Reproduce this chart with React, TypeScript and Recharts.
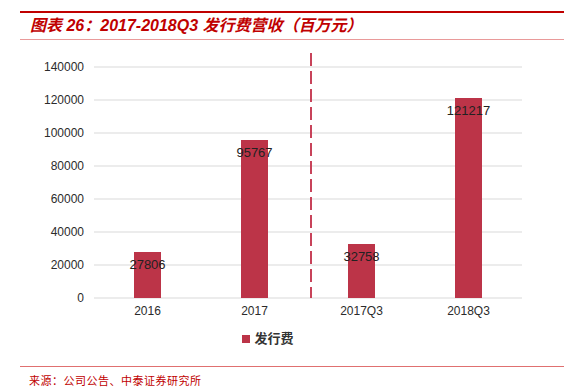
import React from 'react';
import {
  BarChart, Bar, XAxis, YAxis, CartesianGrid, Legend, LabelList, usePlotArea,
} from 'recharts';

const categories = ['2016', '2017', '2017Q3', '2018Q3'];
const issueFees = [27806, 95767, 32758, 121217];
const yTicks = [0, 20000, 40000, 60000, 80000, 100000, 120000, 140000];

const rows = categories.map((name, i) => ({ name, fee: issueFees[i] }));

const RED = '#bc3448';
const LATIN = '"Liberation Sans", Arial, "Noto Sans CJK SC", sans-serif';

// dashed split between annual and Q3 figures
function PeriodDivider() {
  const plot = usePlotArea();
  if (!plot) return null;
  const x = plot.x + plot.width / 2 + 3;
  return (
    <line
      x1={x} x2={x} y1={plot.y - 14} y2={plot.y + plot.height}
      stroke="#c8435a" strokeWidth={2} strokeDasharray="13 5"
    />
  );
}

export default function App() {
  return (
    <div style={{ position: 'absolute', left: 0, top: 0, width: 564, height: 390, background: '#fff', overflow: 'hidden' }}>
      <div style={{ position: 'absolute', left: 20, right: 0, top: 11, height: 2, background: '#c00000' }} />
      <div
        style={{
          position: 'absolute', left: 30, top: 15, fontFamily: LATIN, fontWeight: 'bold',
          fontStyle: 'italic', fontSize: 16, color: '#c00000', whiteSpace: 'nowrap', lineHeight: '22px',
        }}
      >
        图表 26：2017-2018Q3 发行费营收（百万元）
      </div>
      <div style={{ position: 'absolute', left: 20, right: 0, top: 39, height: 1, background: '#e99a9a' }} />

      <div style={{ position: 'absolute', left: 0, top: 0 }}>
        <BarChart
          width={564}
          height={390}
          data={rows}
          margin={{ top: 67, right: 42, bottom: 43, left: 24 }}
        >
          <CartesianGrid vertical={false} stroke="#d9d9d9" />
          <XAxis
            dataKey="name"
            axisLine={false}
            tickLine={false}
            height={30}
            tick={{ fontSize: 12, fill: '#2b2b2b', fontFamily: LATIN }}
          />
          <YAxis
            width={70}
            domain={[0, 140000]}
            ticks={yTicks}
            axisLine={false}
            tickLine={false}
            tickMargin={4}
            tick={{ fontSize: 12, fill: '#2b2b2b', fontFamily: LATIN }}
          />
          <Legend
            verticalAlign="bottom"
            iconType="square"
            iconSize={8}
            formatter={(v) => <span style={{ color: '#333', fontWeight: 'bold', fontSize: 13, fontFamily: LATIN }}>{v}</span>}
          />
          <Bar dataKey="fee" name="发行费" fill={RED} barSize={27} isAnimationActive={false}>
            <LabelList
              dataKey="fee"
              position="insideTop"
              offset={8}
              fill="#222"
              fontSize={13}
              fontFamily={LATIN}
            />
          </Bar>
          <PeriodDivider />
        </BarChart>
      </div>

      <div style={{ position: 'absolute', left: 20, right: 0, top: 366, height: 1, background: '#e07070' }} />
      <div
        style={{
          position: 'absolute', left: 29, top: 372, fontFamily: '"Noto Sans CJK SC", sans-serif',
          fontSize: 11, letterSpacing: 0.5, color: '#c00000', whiteSpace: 'nowrap', lineHeight: '16px',
        }}
      >
        来源：公司公告、中泰证券研究所
      </div>
    </div>
  );
}
